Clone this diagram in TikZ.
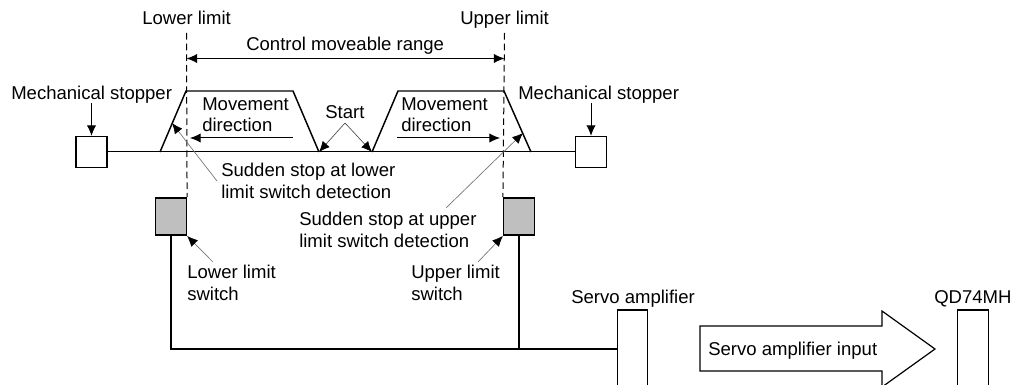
\documentclass[tikz,border=0pt]{standalone}
\usepackage{fontspec}
\setmainfont{Liberation Sans}
\usetikzlibrary{arrows.meta}

\tikzset{
	lab/.style={anchor=base west, inner sep=0pt, align=left},
	stopperbox/.style={draw, line width=1.1pt, fill=white, minimum width=23pt, minimum height=23pt, inner sep=0pt},
	switchbox/.style={draw, line width=1.1pt, fill=black!25, minimum width=23pt, minimum height=28pt, inner sep=0pt},
	unitbox/.style={draw, line width=0.9pt, fill=white, minimum width=23pt, minimum height=75pt, inner sep=0pt},
	limitline/.style={line width=0.75pt, dash pattern=on 5pt off 3pt},
	thinarrow/.style={line width=0.75pt, -{Latex[length=8pt, width=7pt]}},
	leader/.style={line width=0.5pt, draw=black!55, -{Latex[length=8pt, width=7pt, black]}},
	wire/.style={line width=1.3pt},
}

\begin{document}
\begin{tikzpicture}[x=0.75pt, y=-0.75pt, every node/.style={font=\fontsize{13.9}{15.8}\selectfont}]
	\useasboundingbox (0,0) rectangle (1022,385);

	% limits and range
	\coordinate (lowtop) at (186.5,33);
	\coordinate (uptop) at (504.5,33);
	\coordinate (rangeleft) at (186.5,58.5);
	\coordinate (rangeright) at (504.5,58.5);
	\node[lab] (lowlab) at (142,25) {Lower limit};
	\node[lab] (uplab) at (460,25) {Upper limit};
	\node[lab] (rangelab) at (246,51) {Control moveable range};
	\draw[thinarrow, {Latex[length=8pt, width=7pt]}-{Latex[length=8pt, width=7pt]}] (rangeleft) -- (rangeright);

	% stoppers and switches
	\foreach \name/\x/\lx in {stopl/91.5/11, stopr/591/518} {
		\node[stopperbox] (\name) at (\x,152) {};
		\node[lab] (\name lab) at (\lx,99) {Mechanical stopper};
		\coordinate (\name top) at (\x,103);
		\draw[thinarrow] (\name top) -- (\name.north);
	}
	\node[switchbox] (swl) at (171,216.5) {};
	\node[switchbox] (swr) at (519,216.5) {};
	\draw[limitline] (lowtop) -- (swl.north east);
	\draw[limitline] (uptop) -- (swr.north west);

	% rail and the two ramps
	\draw[line width=0.75pt] (stopl.east) -- (stopr.west);
	\draw[line width=1.1pt] (160,152) -- (186,91) -- (293,91) -- (319,152);
	\draw[line width=1.1pt] (372,152) -- (398,91) -- (504,91) -- (531,152);

	% movement direction
	\node[lab] (movl) at (202,132) {Movement\\direction};
	\node[lab] (movr) at (401,132) {Movement\\direction};
	\coordinate (movlfrom) at (293,138);
	\coordinate (movlto) at (190,138);
	\coordinate (movrfrom) at (397,138);
	\coordinate (movrto) at (500,138);
	\draw[thinarrow] (movlfrom) -- (movlto);
	\draw[thinarrow] (movrfrom) -- (movrto);

	% start
	\node[lab] (startlab) at (325,118) {Start};
	\coordinate (startapex) at (345,123);
	\coordinate (startl) at (319,152);
	\coordinate (startr) at (372,152);
	\draw[leader, draw=black!70] (startapex) -- (startl);
	\draw[leader, draw=black!70] (startapex) -- (startr);

	% sudden stop
	\node[lab] (stoplow) at (221,198) {Sudden stop at lower\\limit switch detection};
	\node[lab] (stopup) at (299,247) {Sudden stop at upper\\limit switch detection};
	\coordinate (stoplowfrom) at (217,181);
	\coordinate (stoplowto) at (172,123);
	\coordinate (stopupfrom) at (446,208);
	\coordinate (stopupto) at (523,133);
	\draw[leader] (stoplowfrom) -- (stoplowto);
	\draw[leader] (stopupfrom) -- (stopupto);

	% switch labels
	\node[lab] (swllab) at (187,300) {Lower limit\\switch};
	\node[lab] (swrlab) at (411,300) {Upper limit\\switch};
	\coordinate (swlfrom) at (213,262);
	\coordinate (swrfrom) at (478,262);
	\draw[leader] (swlfrom) -- (swl.south east);
	\draw[leader] (swrfrom) -- (swr.south west);

	% units
	\node[unitbox] (servo) at (632.5,360) {};
	\node[unitbox] (qd) at (973,360) {};
	\node[lab] (servolab) at (571,303) {Servo amplifier};
	\node[lab] (qdlab) at (934,303) {QD74MH};

	% wiring
	\coordinate (wirejoin) at (519,349);
	\draw[wire] (swl.south) |- (servo.west |- wirejoin);
	\draw[wire] (swr.south) -- (wirejoin);

	% input arrow
	\draw[line width=0.9pt, fill=white] (700,326) -- (882,326) -- (882,311) -- (935,349) -- (882,387) -- (882,371) -- (700,371) -- cycle;
	\node[lab] (inputlab) at (708,355) {Servo amplifier input};
\end{tikzpicture}
\end{document}
